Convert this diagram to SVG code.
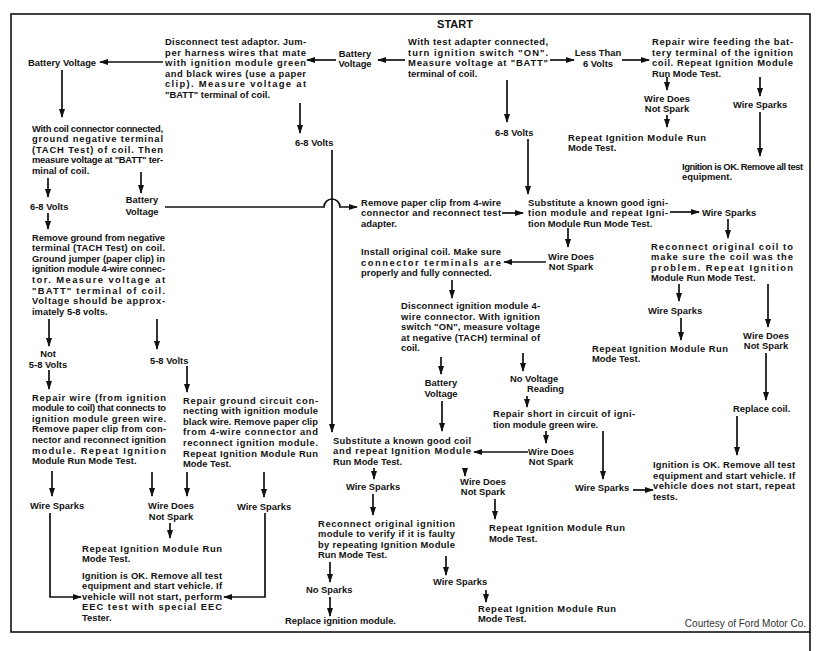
<svg xmlns="http://www.w3.org/2000/svg" width="824" height="651" viewBox="0 0 824 651">
<style>
text{font-family:"Liberation Sans",Arial,sans-serif;font-size:9.4px;font-weight:bold;fill:#111}
.c{text-anchor:middle}
.h{font-size:11px}
.cr{font-weight:normal;font-size:10px;text-anchor:end;fill:#333}
.ln path{fill:none;stroke:#111;stroke-width:1.7}
.frame{fill:none;stroke:#111;stroke-width:1.6}
</style>
<defs>
<marker id="ah" markerUnits="userSpaceOnUse" markerWidth="9" markerHeight="6" refX="8" refY="3" orient="auto">
<path d="M0,0 L9,3 L0,6 z" fill="#111"/>
</marker>
</defs>
<rect width="824" height="651" fill="#fff"/>
<rect class="frame" x="11" y="14" width="799" height="618"/>
<path class="frame" d="M810,632 V651"/>

<g class="ln" id="connectors">
<path d="M405,60 H378" marker-end="url(#ah)"/>
<path d="M336,60 H307" marker-end="url(#ah)"/>
<path d="M163,62 H100" marker-end="url(#ah)"/>
<path d="M62,70 V117" marker-end="url(#ah)"/>
<path d="M550,60 H574" marker-end="url(#ah)"/>
<path d="M622,60 H649" marker-end="url(#ah)"/>
<path d="M667,77 V90" marker-end="url(#ah)"/>
<path d="M667,115 V127" marker-end="url(#ah)"/>
<path d="M760,77 V96" marker-end="url(#ah)"/>
<path d="M760,112 V156" marker-end="url(#ah)"/>
<path d="M300,103 V133" marker-end="url(#ah)"/>
<path d="M332,150 V432" marker-end="url(#ah)"/>
<path d="M507,80 V122" marker-end="url(#ah)"/>
<path d="M528,139 V194" marker-end="url(#ah)"/>
<path d="M48,178 V197" marker-end="url(#ah)"/>
<path d="M48,213 V229" marker-end="url(#ah)"/>
<path d="M141,172 V193" marker-end="url(#ah)"/>
<path d="M165,207 H324 A8,8 0 0 1 340,207 H357" marker-end="url(#ah)"/>
<path d="M502,213 H523" marker-end="url(#ah)"/>
<path d="M670,212 H699" marker-end="url(#ah)"/>
<path d="M568,228 V247" marker-end="url(#ah)"/>
<path d="M546,262 H504" marker-end="url(#ah)"/>
<path d="M452,280 V298" marker-end="url(#ah)"/>
<path d="M728,219 V238" marker-end="url(#ah)"/>
<path d="M679,284 V301" marker-end="url(#ah)"/>
<path d="M681,318 V340" marker-end="url(#ah)"/>
<path d="M768,284 V327" marker-end="url(#ah)"/>
<path d="M766,353 V400" marker-end="url(#ah)"/>
<path d="M737,416 V455" marker-end="url(#ah)"/>
<path d="M441,357 V374" marker-end="url(#ah)"/>
<path d="M442,401 V431" marker-end="url(#ah)"/>
<path d="M523,353 V371" marker-end="url(#ah)"/>
<path d="M527,396 V407" marker-end="url(#ah)"/>
<path d="M546,431 V443" marker-end="url(#ah)"/>
<path d="M603,431 V479" marker-end="url(#ah)"/>
<path d="M633,490 H653" marker-end="url(#ah)"/>
<path d="M528,452 H474" marker-end="url(#ah)"/>
<path d="M49,319 V346" marker-end="url(#ah)"/>
<path d="M157,319 V349" marker-end="url(#ah)"/>
<path d="M49,370 V389" marker-end="url(#ah)"/>
<path d="M187,366 V392" marker-end="url(#ah)"/>
<path d="M52,471 V496" marker-end="url(#ah)"/>
<path d="M152,472 V496" marker-end="url(#ah)"/>
<path d="M187,472 V496" marker-end="url(#ah)"/>
<path d="M264,472 V497" marker-end="url(#ah)"/>
<path d="M50,513 V597 H81" marker-end="url(#ah)"/>
<path d="M265,513 V597 H224" marker-end="url(#ah)"/>
<path d="M170,523 V538" marker-end="url(#ah)"/>
<path d="M374,468 V479" marker-end="url(#ah)"/>
<path d="M373,494 V515" marker-end="url(#ah)"/>
<path d="M465,468 V476" marker-end="url(#ah)"/>
<path d="M495,499 V519" marker-end="url(#ah)"/>
<path d="M330,562 V582" marker-end="url(#ah)"/>
<path d="M330,597 V616" marker-end="url(#ah)"/>
<path d="M446,556 V575" marker-end="url(#ah)"/>
<path d="M486,590 V602" marker-end="url(#ah)"/>
</g>

<g id="start"><text class="c h" x="455" y="28">START</text></g>
<g id="start_para">
<text x="408" y="45" textLength="140" lengthAdjust="spacing">With test adapter connected,</text>
<text x="408" y="55.6" textLength="140" lengthAdjust="spacing">turn ignition switch "ON".</text>
<text x="408" y="66.2" textLength="140" lengthAdjust="spacing">Measure voltage at "BATT"</text>
<text x="408" y="76.8">terminal of coil.</text>
</g>
<g id="batt1"><text class="c" x="355" y="56.5">Battery</text><text class="c" x="355" y="67">Voltage</text></g>
<g id="disconnect_adaptor">
<text x="165" y="45" textLength="141" lengthAdjust="spacing">Disconnect test adaptor. Jum-</text>
<text x="165" y="55.6" textLength="141" lengthAdjust="spacing">per harness wires that mate</text>
<text x="165" y="66.2" textLength="141" lengthAdjust="spacing">with ignition module green</text>
<text x="165" y="76.8" textLength="141" lengthAdjust="spacing">and black wires (use a paper</text>
<text x="165" y="87.4" textLength="141" lengthAdjust="spacing">clip). Measure voltage at</text>
<text x="165" y="98">"BATT" terminal of coil.</text>
</g>
<g id="batt2"><text x="28" y="65.5">Battery Voltage</text></g>
<g id="less6"><text class="c" x="598" y="56">Less Than</text><text class="c" x="598" y="66.5">6 Volts</text></g>
<g id="repair_batt">
<text x="652" y="45" textLength="141" lengthAdjust="spacing">Repair wire feeding the bat-</text>
<text x="652" y="55.6" textLength="141" lengthAdjust="spacing">tery terminal of the ignition</text>
<text x="652" y="66.2" textLength="141" lengthAdjust="spacing">coil. Repeat Ignition Module</text>
<text x="652" y="76.8">Run Mode Test.</text>
</g>
<g id="wdns1"><text class="c" x="667" y="101.5">Wire Does</text><text class="c" x="667" y="112">Not Spark</text></g>
<g id="repeat1">
<text x="568" y="140.5" textLength="138" lengthAdjust="spacing">Repeat Ignition Module Run</text>
<text x="568" y="151.1">Mode Test.</text>
</g>
<g id="ws1"><text x="733" y="107.5">Wire Sparks</text></g>
<g id="ok1">
<text x="682" y="169.5" textLength="121" lengthAdjust="spacing">Ignition is OK. Remove all test</text>
<text x="682" y="180.1">equipment.</text>
</g>
<g id="v68a"><text x="295" y="145.5">6-8 Volts</text></g>
<g id="v68b"><text x="495" y="135.5">6-8 Volts</text></g>
<g id="coil_connected">
<text x="32" y="131.5" textLength="131" lengthAdjust="spacing">With coil connector connected,</text>
<text x="32" y="142.1" textLength="131" lengthAdjust="spacing">ground negative terminal</text>
<text x="32" y="152.7" textLength="131" lengthAdjust="spacing">(TACH Test) of coil. Then</text>
<text x="32" y="163.3" textLength="131" lengthAdjust="spacing">measure voltage at "BATT" ter-</text>
<text x="32" y="173.9">minal of coil.</text>
</g>
<g id="v68c"><text x="30" y="209.5">6-8 Volts</text></g>
<g id="batt3"><text class="c" x="142" y="202.5">Battery</text><text class="c" x="142" y="214.5">Voltage</text></g>
<g id="remove_ground">
<text x="32" y="240.5" textLength="133" lengthAdjust="spacing">Remove ground from negative</text>
<text x="32" y="251.1" textLength="133" lengthAdjust="spacing">terminal (TACH Test) on coil.</text>
<text x="32" y="261.7" textLength="133" lengthAdjust="spacing">Ground jumper (paper clip) in</text>
<text x="32" y="272.3" textLength="133" lengthAdjust="spacing">ignition module 4-wire connec-</text>
<text x="32" y="282.9" textLength="133" lengthAdjust="spacing">tor. Measure voltage at</text>
<text x="32" y="293.5" textLength="133" lengthAdjust="spacing">"BATT" terminal of coil.</text>
<text x="32" y="304.1" textLength="133" lengthAdjust="spacing">Voltage should be approx-</text>
<text x="32" y="314.7">imately 5-8 volts.</text>
</g>
<g id="not58"><text class="c" x="48" y="356.5">Not</text><text class="c" x="48" y="367.5">5-8 Volts</text></g>
<g id="v58"><text x="150" y="363.5">5-8 Volts</text></g>
<g id="repair_green">
<text x="32" y="400.5" textLength="134" lengthAdjust="spacing">Repair wire (from ignition</text>
<text x="32" y="411.1" textLength="134" lengthAdjust="spacing">module to coil) that connects to</text>
<text x="32" y="421.7" textLength="134" lengthAdjust="spacing">ignition module green wire.</text>
<text x="32" y="432.3" textLength="134" lengthAdjust="spacing">Remove paper clip from con-</text>
<text x="32" y="442.9" textLength="134" lengthAdjust="spacing">nector and reconnect ignition</text>
<text x="32" y="453.5" textLength="134" lengthAdjust="spacing">module. Repeat Ignition</text>
<text x="32" y="464.1">Module Run Mode Test.</text>
</g>
<g id="repair_ground">
<text x="183" y="403.5" textLength="135" lengthAdjust="spacing">Repair ground circuit con-</text>
<text x="183" y="414.1" textLength="135" lengthAdjust="spacing">necting with ignition module</text>
<text x="183" y="424.7" textLength="135" lengthAdjust="spacing">black wire. Remove paper clip</text>
<text x="183" y="435.3" textLength="135" lengthAdjust="spacing">from 4-wire connector and</text>
<text x="183" y="445.9" textLength="135" lengthAdjust="spacing">reconnect ignition module.</text>
<text x="183" y="456.5" textLength="135" lengthAdjust="spacing">Repeat Ignition Module Run</text>
<text x="183" y="467.1">Mode Test.</text>
</g>
<g id="ws2"><text x="30" y="508.5">Wire Sparks</text></g>
<g id="wdns2"><text class="c" x="171" y="508.5">Wire Does</text><text class="c" x="171" y="519.5">Not Spark</text></g>
<g id="ws3"><text x="237" y="509.5">Wire Sparks</text></g>
<g id="repeat2">
<text x="82" y="551.5" textLength="140" lengthAdjust="spacing">Repeat Ignition Module Run</text>
<text x="82" y="562.1">Mode Test.</text>
</g>
<g id="ok2">
<text x="82" y="578.5" textLength="140" lengthAdjust="spacing">Ignition is OK. Remove all test</text>
<text x="82" y="589.1" textLength="140" lengthAdjust="spacing">equipment and start vehicle. If</text>
<text x="82" y="599.7" textLength="140" lengthAdjust="spacing">vehicle will not start, perform</text>
<text x="82" y="610.3" textLength="140" lengthAdjust="spacing">EEC test with special EEC</text>
<text x="82" y="620.9">Tester.</text>
</g>
<g id="remove_clip">
<text x="361" y="205.5" textLength="140" lengthAdjust="spacing">Remove paper clip from 4-wire</text>
<text x="361" y="216.1" textLength="140" lengthAdjust="spacing">connector and reconnect test</text>
<text x="361" y="226.7">adapter.</text>
</g>
<g id="sub_module">
<text x="528" y="205.5" textLength="140" lengthAdjust="spacing">Substitute a known good igni-</text>
<text x="528" y="216.1" textLength="140" lengthAdjust="spacing">tion module and repeat Igni-</text>
<text x="528" y="226.7">tion Module Run Mode Test.</text>
</g>
<g id="ws4"><text x="702" y="215.5">Wire Sparks</text></g>
<g id="reconnect_coil">
<text x="651" y="249.5" textLength="142" lengthAdjust="spacing">Reconnect original coil to</text>
<text x="651" y="260.1" textLength="142" lengthAdjust="spacing">make sure the coil was the</text>
<text x="651" y="270.7" textLength="142" lengthAdjust="spacing">problem. Repeat Ignition</text>
<text x="651" y="281.3">Module Run Mode Test.</text>
</g>
<g id="install_coil">
<text x="361" y="255" textLength="140" lengthAdjust="spacing">Install original coil. Make sure</text>
<text x="361" y="265.6" textLength="140" lengthAdjust="spacing">connector terminals are</text>
<text x="361" y="276.2">properly and fully connected.</text>
</g>
<g id="wdns3"><text class="c" x="571" y="259.5">Wire Does</text><text class="c" x="571" y="270.1">Not Spark</text></g>
<g id="disconnect_module">
<text x="401" y="309" textLength="139" lengthAdjust="spacing">Disconnect ignition module 4-</text>
<text x="401" y="319.6" textLength="139" lengthAdjust="spacing">wire connector. With ignition</text>
<text x="401" y="330.2" textLength="139" lengthAdjust="spacing">switch "ON", measure voltage</text>
<text x="401" y="340.8" textLength="139" lengthAdjust="spacing">at negative (TACH) terminal of</text>
<text x="401" y="351.4">coil.</text>
</g>
<g id="ws5"><text x="648" y="313.5">Wire Sparks</text></g>
<g id="repeat3">
<text x="592" y="351.5" textLength="136" lengthAdjust="spacing">Repeat Ignition Module Run</text>
<text x="592" y="362.1">Mode Test.</text>
</g>
<g id="wdns4"><text class="c" x="766" y="338.5">Wire Does</text><text class="c" x="766" y="349.1">Not Spark</text></g>
<g id="replace_coil"><text x="733" y="411.5">Replace coil.</text></g>
<g id="batt4"><text class="c" x="441" y="386">Battery</text><text class="c" x="441" y="396.6">Voltage</text></g>
<g id="no_voltage"><text x="510" y="381.5">No Voltage</text><text x="527" y="392.1">Reading</text></g>
<g id="repair_short">
<text x="493" y="417" textLength="142" lengthAdjust="spacing">Repair short in circuit of igni-</text>
<text x="493" y="427.6">tion module green wire.</text>
</g>
<g id="wdns5"><text class="c" x="551" y="454.5">Wire Does</text><text class="c" x="551" y="465.1">Not Spark</text></g>
<g id="sub_coil">
<text x="333" y="443.5" textLength="138" lengthAdjust="spacing">Substitute a known good coil</text>
<text x="333" y="454.1" textLength="138" lengthAdjust="spacing">and repeat Ignition Module</text>
<text x="333" y="464.7">Run Mode Test.</text>
</g>
<g id="ok3">
<text x="653" y="468" textLength="142" lengthAdjust="spacing">Ignition is OK. Remove all test</text>
<text x="653" y="478.6" textLength="142" lengthAdjust="spacing">equipment and start vehicle. If</text>
<text x="653" y="489.2" textLength="142" lengthAdjust="spacing">vehicle does not start, repeat</text>
<text x="653" y="499.8">tests.</text>
</g>
<g id="ws6"><text x="575" y="490.5">Wire Sparks</text></g>
<g id="ws7"><text x="346" y="489.5">Wire Sparks</text></g>
<g id="wdns6"><text class="c" x="483" y="484.5">Wire Does</text><text class="c" x="483" y="495.1">Not Spark</text></g>
<g id="reconnect_module">
<text x="318" y="526.5" textLength="137" lengthAdjust="spacing">Reconnect original ignition</text>
<text x="318" y="537.1" textLength="137" lengthAdjust="spacing">module to verify if it is faulty</text>
<text x="318" y="547.7" textLength="137" lengthAdjust="spacing">by repeating Ignition Module</text>
<text x="318" y="558.3">Run Mode Test.</text>
</g>
<g id="repeat4">
<text x="489" y="531" textLength="136" lengthAdjust="spacing">Repeat Ignition Module Run</text>
<text x="489" y="541.6">Mode Test.</text>
</g>
<g id="no_sparks"><text x="306" y="592.5">No Sparks</text></g>
<g id="replace_module"><text x="285" y="623.5">Replace ignition module.</text></g>
<g id="ws8"><text x="433" y="584.5">Wire Sparks</text></g>
<g id="repeat5">
<text x="478" y="611.5" textLength="138" lengthAdjust="spacing">Repeat Ignition Module Run</text>
<text x="478" y="622.1">Mode Test.</text>
</g>
<g id="courtesy"><text class="cr" x="806" y="626.5">Courtesy of Ford Motor Co.</text></g>
</svg>
